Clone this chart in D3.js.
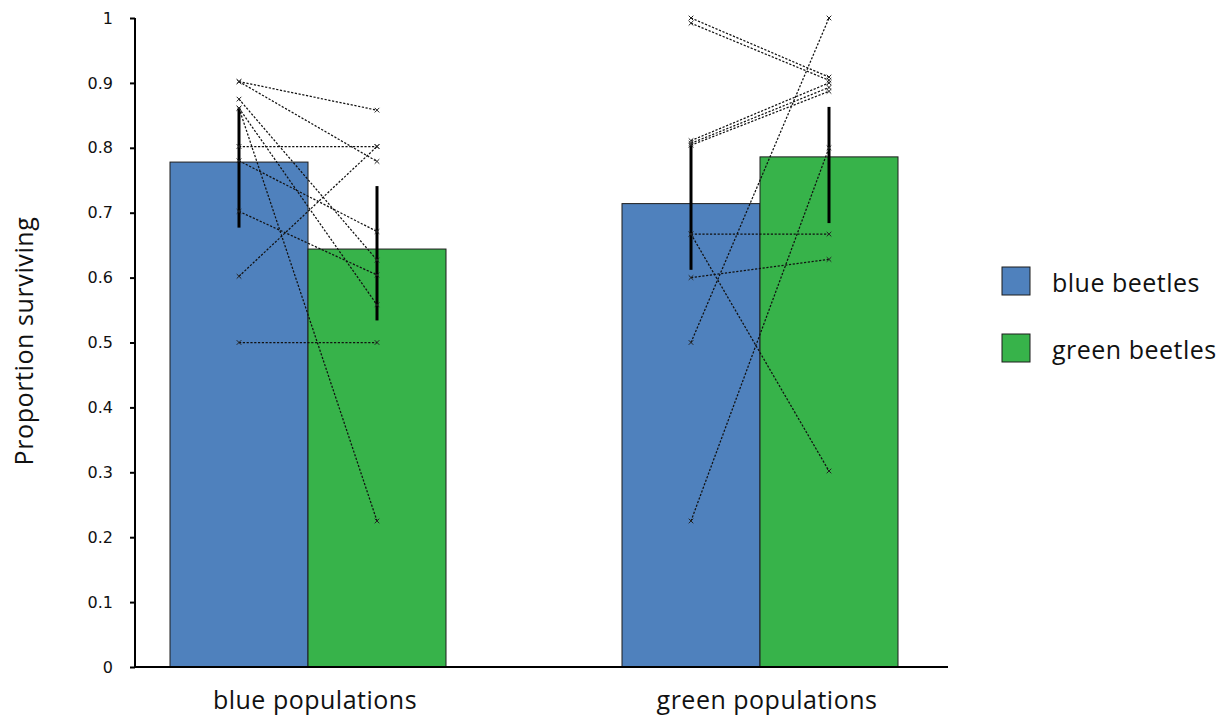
<!DOCTYPE html>
<html>
<head>
<meta charset="utf-8">
<script src="https://cdn.jsdelivr.net/npm/d3@7"></script>
<style>
  html, body { margin: 0; padding: 0; background: #fff; }
  svg { display: block; }
</style>
</head>
<body>
<svg id="chart" width="1230" height="719"></svg>
<script>
// Population groups along the x axis and the two beetle types in each group
const groups = ["blue populations", "green populations"];
const beetles = ["blue beetles", "green beetles"];

// Mean proportion surviving per group, one array per beetle type
const blueBeetleMean = [0.778, 0.714];
const greenBeetleMean = [0.644, 0.786];

// Error bar limits per group
const blueBeetleLow = [0.677, 0.612];
const blueBeetleHigh = [0.861, 0.804];
const greenBeetleLow = [0.534, 0.684];
const greenBeetleHigh = [0.741, 0.863];

// Individual populations: survival of blue and green beetles, paired by index
const bluePopsBlue  = [0.902, 0.902, 0.875, 0.861, 0.861, 0.802, 0.780, 0.702, 0.602, 0.500];
const bluePopsGreen = [0.858, 0.779, 0.627, 0.225, 0.558, 0.802, 0.671, 0.604, 0.802, 0.500];
const greenPopsBlue  = [1.000, 0.992, 0.811, 0.807, 0.804, 0.667, 0.667, 0.600, 0.500, 0.225];
const greenPopsGreen = [0.909, 0.904, 0.900, 0.893, 0.887, 0.667, 0.302, 0.628, 1.000, 0.800];

// Y axis tick values
const yTicks = [0, 0.1, 0.2, 0.3, 0.4, 0.5, 0.6, 0.7, 0.8, 0.9, 1];

const colors = { "blue beetles": "#4f81bd", "green beetles": "#37b34a" };
const labelFont = "'Open Sans', 'Noto Sans', sans-serif";

const svg = d3.select("#chart");

const plot = { left: 135, right: 948, top: 18, bottom: 667 };

const y = d3.scaleLinear().domain([0, 1]).range([plot.bottom, plot.top]);
const xGroup = d3.scalePoint().domain(groups).range([308, 760]);
const xBeetle = d3.scaleBand().domain(beetles).range([-138, 138]).padding(0);

const summary = [];
groups.forEach((g, i) => {
  summary.push({ group: g, beetle: "blue beetles", mean: blueBeetleMean[i], lo: blueBeetleLow[i], hi: blueBeetleHigh[i] });
  summary.push({ group: g, beetle: "green beetles", mean: greenBeetleMean[i], lo: greenBeetleLow[i], hi: greenBeetleHigh[i] });
});

const centerX = d => xGroup(d.group) + xBeetle(d.beetle) + xBeetle.bandwidth() / 2;

// Bars
svg.append("g").selectAll("rect")
  .data(summary)
  .join("rect")
  .attr("x", d => xGroup(d.group) + xBeetle(d.beetle))
  .attr("y", d => y(d.mean))
  .attr("width", xBeetle.bandwidth())
  .attr("height", d => y(0) - y(d.mean))
  .attr("fill", d => colors[d.beetle])
  .attr("stroke", "#1d1d1d")
  .attr("stroke-width", 1);

// Error bars
svg.append("g").selectAll("line")
  .data(summary)
  .join("line")
  .attr("x1", centerX).attr("x2", centerX)
  .attr("y1", d => y(d.lo)).attr("y2", d => y(d.hi))
  .attr("stroke", "#000")
  .attr("stroke-width", 3);

// Paired population lines
const pairs = [];
bluePopsBlue.forEach((v, i) => pairs.push({ group: groups[0], a: v, b: bluePopsGreen[i] }));
greenPopsBlue.forEach((v, i) => pairs.push({ group: groups[1], a: v, b: greenPopsGreen[i] }));

const xA = d => centerX({ group: d.group, beetle: beetles[0] });
const xB = d => centerX({ group: d.group, beetle: beetles[1] });

svg.append("g").selectAll("line")
  .data(pairs)
  .join("line")
  .attr("x1", xA).attr("y1", d => y(d.a))
  .attr("x2", xB).attr("y2", d => y(d.b))
  .attr("stroke", "#111")
  .attr("stroke-width", 1.25)
  .attr("stroke-dasharray", "2.2,1.6");

// Cross markers at each population value
const points = [];
pairs.forEach(d => {
  points.push({ x: xA(d), v: d.a });
  points.push({ x: xB(d), v: d.b });
});
svg.append("g").selectAll("path")
  .data(points)
  .join("path")
  .attr("transform", d => `translate(${d.x},${y(d.v)})`)
  .attr("d", "M-2.3,-2.3L2.3,2.3M-2.3,2.3L2.3,-2.3")
  .attr("stroke", "#222")
  .attr("stroke-width", 1)
  .attr("fill", "none");

// Y axis
const yAxis = svg.append("g")
  .attr("transform", `translate(${plot.left},0)`)
  .call(d3.axisLeft(y).tickValues(yTicks).tickSize(5).tickPadding(17).tickFormat(d3.format("~g")));
yAxis.select(".domain").attr("stroke", "#000").attr("stroke-width", 2).attr("d", `M0,${plot.bottom}V${plot.top}`);
yAxis.selectAll(".tick line").attr("stroke", "#000").attr("stroke-width", 2);
yAxis.selectAll(".tick text")
  .attr("font-family", "'DejaVu Sans', Verdana, sans-serif")
  .attr("font-size", 16)
  .attr("fill", "#111");

// X axis baseline
svg.append("line")
  .attr("x1", plot.left).attr("x2", plot.right)
  .attr("y1", y(0)).attr("y2", y(0))
  .attr("stroke", "#000").attr("stroke-width", 2);

// Group labels
svg.append("g").selectAll("text")
  .data(groups)
  .join("text")
  .attr("x", d => xGroup(d) + 7)
  .attr("y", 709)
  .attr("text-anchor", "middle")
  .attr("font-family", labelFont)
  .attr("font-size", 25)
  .attr("letter-spacing", 0.5)
  .attr("fill", "#111")
  .text(d => d);

// Y axis title
svg.append("text")
  .attr("transform", "translate(33,341) rotate(-90)")
  .attr("text-anchor", "middle")
  .attr("font-family", labelFont)
  .attr("font-size", 25)
  .attr("letter-spacing", 0.6)
  .attr("fill", "#111")
  .text("Proportion surviving");

// Legend
const legend = svg.append("g").attr("transform", "translate(1002,267)");
const legendRow = legend.selectAll("g")
  .data(beetles)
  .join("g")
  .attr("transform", (d, i) => `translate(0,${i * 67})`);
legendRow.append("rect")
  .attr("width", 28).attr("height", 28)
  .attr("fill", d => colors[d])
  .attr("stroke", "#1d1d1d").attr("stroke-width", 1);
legendRow.append("text")
  .attr("x", 50).attr("y", 25)
  .attr("font-family", labelFont)
  .attr("font-size", 25)
  .attr("letter-spacing", 0.5)
  .attr("fill", "#111")
  .text(d => d);
</script>
</body>
</html>
